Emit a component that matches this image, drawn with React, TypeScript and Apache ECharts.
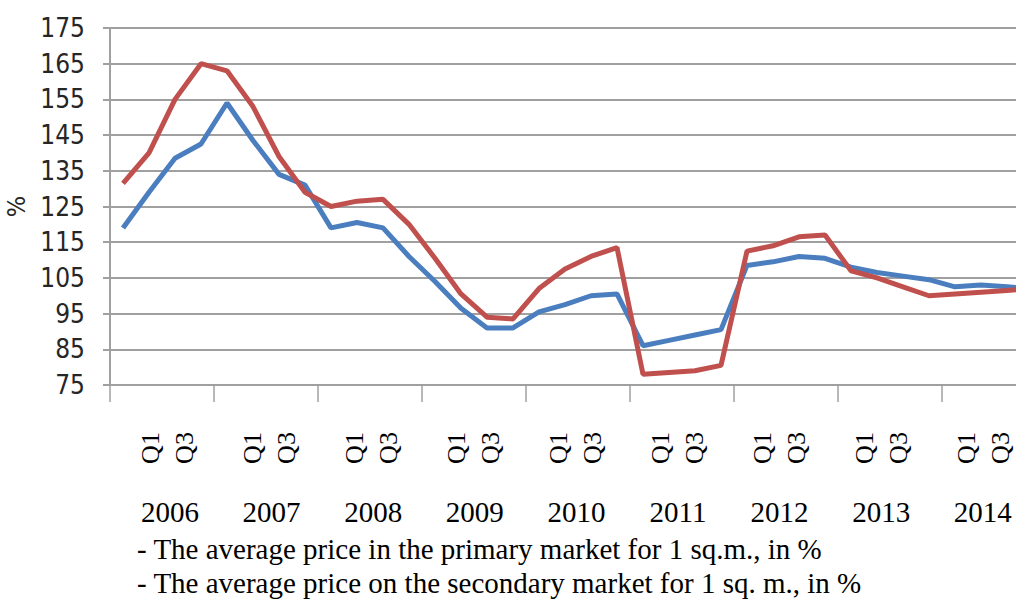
import React, { useEffect, useRef } from "react";
import * as echarts from "echarts";

const years = ["2006", "2007", "2008", "2009", "2010", "2011", "2012", "2013", "2014"];
const quarterNames = ["Q1", "Q2", "Q3", "Q4"];
const shownQuarterLabels = ["Q1", "Q3"];

// Average price in the primary market (blue)
const primaryMarket = [
  119, 129, 138.5, 142.5,
  154, 143.5, 134, 131,
  119, 120.5, 119, 111,
  104, 96.5, 91, 91,
  95.5, 97.5, 100, 100.5,
  86, 87.5, 89, 90.5,
  108.5, 109.5, 111, 110.5,
  108, 106.5, 105.5, 104.5,
  102.5, 103, 102.5, 102,
];

// Average price on the secondary market (red)
const secondaryMarket = [
  131.5, 140, 155, 165,
  163, 153, 139, 129,
  125, 126.5, 127, 120,
  110.5, 100.5, 94, 93.5,
  102, 107.5, 111, 113.5,
  78, 78.5, 79, 80.5,
  112.5, 114, 116.5, 117,
  107, 105, 102.5, 100,
  100.5, 101, 101.5, 102,
];

const legendLines = [
  "- The average price in the primary market for 1 sq.m., in %",
  "- The average price on the secondary market for 1 sq. m., in %",
];

const yMin = 75;
const yMax = 175;
const yStep = 10;

const categories = years.flatMap((y) => quarterNames.map((q) => `${y} ${q}`));

export default function App() {
  const ref = useRef<HTMLDivElement>(null);

  useEffect(() => {
    if (!ref.current) return;
    const chart = echarts.init(ref.current, undefined, { renderer: "svg" });

    const serif = "'Liberation Serif', 'Times New Roman', serif";
    const narrow = "'DejaVu Sans Condensed', 'Liberation Sans Narrow', 'Arial Narrow', sans-serif";
    const graphics: any[] = [];
    years.forEach((y, i) => {
      const q1x = 150 + 102 * i;
      shownQuarterLabels.forEach((q, j) => {
        graphics.push({
          type: "text",
          x: q1x + 34 * j,
          y: 448,
          rotation: Math.PI / 2,
          style: {
            text: q,
            fill: "#000",
            font: `26px ${serif}`,
            textAlign: "center",
            textVerticalAlign: "middle",
          },
        });
      });
      graphics.push({
        type: "text",
        x: 170 + 101.6 * i,
        y: 512,
        style: {
          text: y,
          fill: "#000",
          font: `29px ${serif}`,
          textAlign: "center",
          textVerticalAlign: "middle",
        },
      });
    });
    legendLines.forEach((t, i) => {
      graphics.push({
        type: "text",
        x: 137,
        y: 549 + 34 * i,
        style: {
          text: t,
          fill: "#000",
          font: `29px ${serif}`,
          textAlign: "left",
          textVerticalAlign: "middle",
        },
      });
    });

    chart.setOption({
      animation: false,
      backgroundColor: "#fff",
      grid: { left: 110, top: 28, width: 936, height: 357, outerBoundsMode: "none", containLabel: false },
      xAxis: {
        type: "category",
        data: categories,
        boundaryGap: true,
        axisLine: { show: true, lineStyle: { color: "#a0a0a0", width: 2 } },
        axisTick: { show: true, interval: 3, length: 17, lineStyle: { color: "#a0a0a0", width: 1.5 } },
        axisLabel: { show: false },
        splitLine: { show: false },
      },
      yAxis: {
        type: "value",
        min: yMin,
        max: yMax,
        interval: yStep,
        name: "%",
        nameLocation: "middle",
        nameRotate: 90,
        nameGap: 78,
        nameTextStyle: {
          fontFamily: narrow,
          fontSize: 25,
          color: "#262626",
        },
        axisLine: { show: true, lineStyle: { color: "#a0a0a0", width: 2 } },
        axisTick: { show: true, length: 7, lineStyle: { color: "#a0a0a0", width: 2 } },
        axisLabel: {
          margin: 25,
          fontFamily: narrow,
          fontSize: 26,
          color: "#262626",
        },
        splitLine: { show: true, lineStyle: { color: "#a0a0a0", width: 2 } },
      },
      series: [
        {
          name: "Primary market",
          type: "line",
          data: primaryMarket,
          showSymbol: false,
          lineStyle: { color: "#4a7ebf", width: 5 },
          itemStyle: { color: "#4a7ebf" },
        },
        {
          name: "Secondary market",
          type: "line",
          data: secondaryMarket,
          showSymbol: false,
          lineStyle: { color: "#c0504d", width: 5 },
          itemStyle: { color: "#c0504d" },
        },
      ],
      graphic: graphics,
    });

    return () => chart.dispose();
  }, []);

  return (
    <div
      style={{
        position: "fixed",
        left: 0,
        top: 0,
        width: 1016,
        height: 599,
        overflow: "hidden",
        background: "#fff",
      }}
    >
      <div ref={ref} style={{ width: 1060, height: 599 }} />
    </div>
  );
}
